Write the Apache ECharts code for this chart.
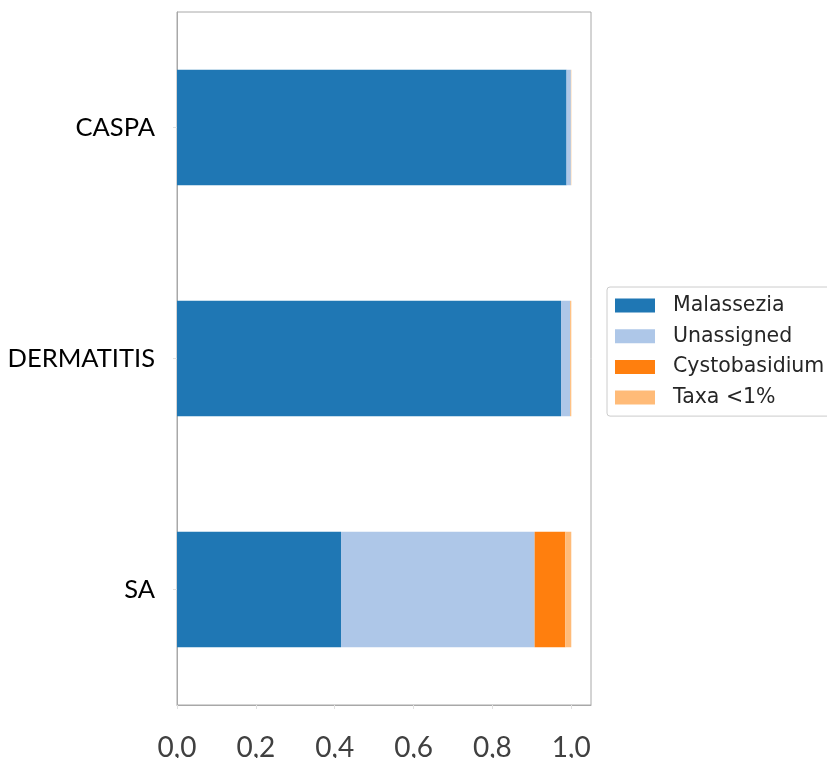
<!DOCTYPE html>
<html>
<head>
<meta charset="utf-8">
<script src="https://cdn.jsdelivr.net/npm/echarts@6/dist/echarts.min.js"></script>
<style>
  html, body { margin: 0; padding: 0; background: #ffffff; }
  #chart { width: 827px; height: 758px; }
</style>
</head>
<body>
<div id="chart"></div>
<script>
// Relative abundance of fungal genera per sample group
const groups = ['CASPA', 'DERMATITIS', 'SA'];
const malassezia = [0.988, 0.974, 0.416];
const unassigned = [0.011, 0.023, 0.491];
const cystobasidium = [0.000, 0.000, 0.078];
const taxaUnder1 = [0.001, 0.003, 0.015];
const xTicks = [0, 0.2, 0.4, 0.6, 0.8, 1.0];

const seriesDefs = [
  { name: 'Malassezia', values: malassezia, color: '#1f77b4' },
  { name: 'Unassigned', values: unassigned, color: '#aec7e8' },
  { name: 'Cystobasidium', values: cystobasidium, color: '#ff7f0e' },
  { name: 'Taxa <1%', values: taxaUnder1, color: '#ffbb78' }
];

const chart = echarts.init(document.getElementById('chart'), null, { renderer: 'canvas' });

chart.setOption({
  animation: false,
  backgroundColor: '#ffffff',
  grid: {
    left: 177, right: 236, top: 12, bottom: 53,
    show: true, borderColor: '#a8a8a8', borderWidth: 1,
    containLabel: false,
    outerBoundsMode: 'none'
  },
  legend: {
    orient: 'vertical',
    left: 607, top: 287,
    padding: [8, 12, 8, 8],
    itemWidth: 40, itemHeight: 14,
    itemGap: 9.7,
    icon: 'rect',
    borderColor: '#cccccc', borderWidth: 1, borderRadius: 3,
    backgroundColor: '#ffffff',
    textStyle: {
      fontFamily: 'DejaVu Sans', fontSize: 20.5, color: '#262626',
      lineHeight: 21, padding: [0, 0, 0, 13]
    },
    data: seriesDefs.map(s => s.name)
  },
  xAxis: {
    type: 'value',
    min: 0, max: 1.05, interval: 0.2,
    splitLine: { show: false },
    axisLine: { show: true, lineStyle: { color: '#a8a8a8' } },
    axisTick: { show: true, length: 4, lineStyle: { color: '#e0e0e0' } },
    axisLabel: {
      fontFamily: 'Lato', fontSize: 28, color: '#404040', margin: 29,
      showMaxLabel: false,
      formatter: v => xTicks.some(t => Math.abs(t - v) < 1e-9) ? v.toFixed(1).replace('.', ',') : ''
    }
  },
  yAxis: {
    type: 'category',
    data: groups,
    inverse: true,
    axisLine: { show: true, lineStyle: { color: '#a8a8a8' } },
    axisTick: { show: true, alignWithLabel: true, length: 4, lineStyle: { color: '#e0e0e0' } },
    axisLabel: { fontFamily: 'Lato', fontSize: 25.5, color: '#000000', margin: 22 }
  },
  series: seriesDefs.map(s => ({
    name: s.name,
    type: 'bar',
    stack: 'total',
    barWidth: '50%',
    itemStyle: { color: s.color },
    data: s.values
  }))
});
</script>
</body>
</html>
